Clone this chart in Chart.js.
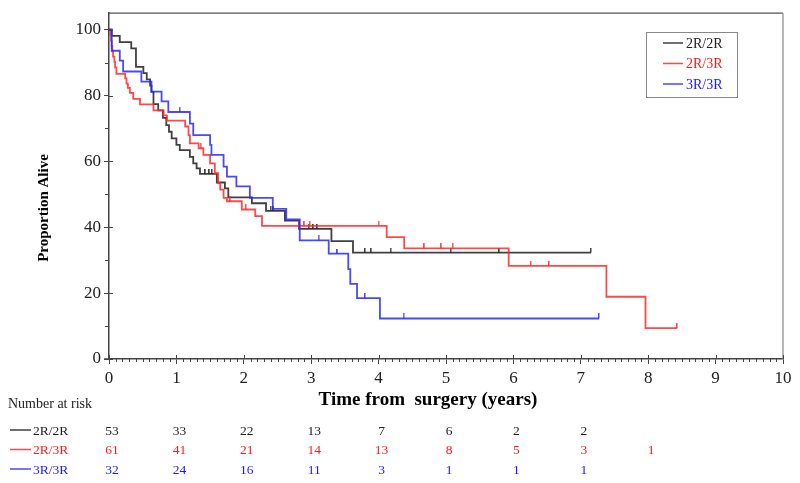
<!DOCTYPE html>
<html>
<head>
<meta charset="utf-8">
<script src="https://cdn.jsdelivr.net/npm/chart.js@4.4.1/dist/chart.umd.min.js"></script>
<style>
body { margin: 0; background: #fff; }
#wrap { width: 800px; height: 483px; }
</style>
</head>
<body>
<div id="wrap"><canvas id="km" width="800" height="483"></canvas></div>
<script>
// Kaplan-Meier steps (years, % alive)
const t2R2R = [0, 0.04, 0.16, 0.33, 0.40, 0.51, 0.56, 0.61, 0.63, 0.66, 0.73, 0.80, 0.85, 0.89, 0.93, 1.00, 1.05, 1.20, 1.25, 1.30, 1.35, 1.60, 1.72, 1.77, 2.12, 2.33, 2.61, 2.82, 3.30, 3.62, 7.15]
const s2R2R = [100, 98.1, 96.2, 94.3, 88.7, 86.8, 84.9, 83.0, 81.1, 77.4, 75.5, 73.2, 71.0, 69.0, 67.0, 65.0, 63.4, 61.4, 59.4, 57.9, 56.2, 53.6, 51.8, 49.1, 47.3, 45.0, 42.0, 39.5, 35.8, 32.3, 32.3]
const c2R2R = [1.43, 1.49, 1.53, 2.40, 2.44, 2.96, 3.03, 3.09, 3.80, 3.89, 4.18, 5.07, 5.79, 7.15]

const t2R3R = [0, 0.02, 0.03, 0.04, 0.05, 0.06, 0.08, 0.09, 0.11, 0.24, 0.26, 0.28, 0.31, 0.36, 0.46, 0.66, 0.81, 0.86, 1.13, 1.18, 1.20, 1.33, 1.40, 1.50, 1.57, 1.62, 1.65, 1.70, 1.75, 1.97, 2.17, 2.27, 4.12, 4.38, 5.93, 7.38, 7.96, 8.43]
const s2R3R = [100, 98.4, 96.7, 95.1, 93.4, 91.8, 90.2, 88.5, 86.6, 85.2, 83.6, 82.3, 80.8, 79.0, 77.3, 75.5, 74.0, 72.4, 70.6, 68.0, 65.5, 64.0, 62.0, 59.4, 56.4, 53.4, 51.4, 48.9, 47.9, 45.4, 43.4, 40.4, 37.0, 33.6, 28.3, 18.9, 9.4, 9.4]
const c2R3R = [1.36, 1.80, 2.03, 2.82, 2.90, 2.98, 4.00, 4.68, 4.93, 5.10, 6.26, 6.53, 8.43]

const t3R3R = [0, 0.04, 0.16, 0.21, 0.48, 0.63, 0.78, 0.88, 1.20, 1.25, 1.50, 1.52, 1.70, 1.75, 1.89, 2.09, 2.43, 2.63, 2.83, 3.26, 3.55, 3.58, 3.68, 4.02, 7.27]
const s3R3R = [100, 93.6, 90.6, 87.3, 84.2, 81.2, 78.2, 75.0, 71.5, 68.0, 65.0, 62.0, 58.4, 55.4, 52.4, 48.9, 45.6, 42.4, 36.0, 32.0, 27.3, 22.8, 18.5, 12.3, 12.3]
const c3R3R = [1.05, 3.11, 3.39, 3.80, 4.37, 7.27]

// number at risk at 0,1,2,... years
const riskYears = [0, 1, 2, 3, 4, 5, 6, 7, 8]
const r2R2R = [53, 33, 22, 13, 7, 6, 2, 2]
const r2R3R = [61, 41, 21, 14, 13, 8, 5, 3, 1]
const r3R3R = [32, 24, 16, 11, 3, 1, 1, 1]

const yTicks = [0, 20, 40, 60, 80, 100]

const groups = ['2R/2R', '2R/3R', '3R/3R']
const lineColors = ['rgba(30,30,30,0.85)', 'rgba(255,40,40,0.85)', 'rgba(40,40,255,0.85)']
const textColors = ['#222222', '#ff1a1a', '#1a1aff']

const serif = '"Liberation Serif", "DejaVu Serif", serif'

function steps(ts, ss) {
    return ts.map((t, i) => ({x: t, y: ss[i]}))
}

function levelAt(ts, ss, t) {
    let v = ss[0]
    for (let i = 0; i < ts.length; i++) {
        if (ts[i] <= t) v = ss[i]
    }
    return v
}

function censorMarks(ts, ss, cs) {
    return cs.map(c => ({x: c, y: levelAt(ts, ss, c)}))
}

// little upward tick used as censoring mark
function tickImage(color) {
    const c = document.createElement('canvas')
    c.width = 2
    c.height = 10
    const g = c.getContext('2d')
    g.fillStyle = color
    g.fillRect(0, 0, 1.5, 5)
    return c
}

const allT = [t2R2R, t2R3R, t3R3R]
const allS = [s2R2R, s2R3R, s3R3R]
const allC = [c2R2R, c2R3R, c3R3R]
const allR = [r2R2R, r2R3R, r3R3R]

const datasets = []
for (let i = 0; i < 3; i++) {
    datasets.push({
        label: groups[i],
        data: steps(allT[i], allS[i]),
        stepped: 'before',
        borderColor: lineColors[i],
        borderWidth: 1.8,
        pointRadius: 0,
        fill: false,
        order: 3 - i
    })
}
for (let i = 0; i < 3; i++) {
    datasets.push({
        label: groups[i] + ' censored',
        data: censorMarks(allT[i], allS[i], allC[i]),
        showLine: false,
        pointStyle: tickImage(lineColors[i]),
        pointRadius: 3,
        pointHoverRadius: 3,
        order: 3 - i
    })
}

const extras = {
    id: 'extras',
    afterDraw(chart) {
        const ctx = chart.ctx
        const a = chart.chartArea
        const xs = chart.scales.x
        const ys = chart.scales.y
        ctx.save()

        // frame
        ctx.lineWidth = 1.2
        ctx.strokeStyle = '#555'
        ctx.beginPath(); ctx.moveTo(a.left, a.top); ctx.lineTo(a.right, a.top); ctx.stroke()
        ctx.strokeStyle = '#888'
        ctx.beginPath(); ctx.moveTo(a.right, a.top); ctx.lineTo(a.right, a.bottom); ctx.stroke()

        // x axis stub left of 0
        ctx.strokeStyle = '#444'
        ctx.lineWidth = 1.5
        ctx.beginPath(); ctx.moveTo(a.left - 5, a.bottom); ctx.lineTo(a.left, a.bottom); ctx.stroke()

        // x minor ticks and inner half of major ticks
        ctx.lineWidth = 1
        for (let i = 0; i <= 100; i++) {
            const px = Math.round(xs.getPixelForValue(i / 10)) + 0.5
            ctx.beginPath()
            if (i % 10 === 0) { ctx.moveTo(px, a.bottom - 4); ctx.lineTo(px, a.bottom) }
            else { ctx.moveTo(px, a.bottom); ctx.lineTo(px, a.bottom + 3) }
            ctx.stroke()
        }
        // y minor ticks and inner half of major ticks
        for (let v = 0; v <= 100; v += 10) {
            const py = Math.round(ys.getPixelForValue(v)) + 0.5
            ctx.beginPath()
            if (v % 20 === 0) { ctx.moveTo(a.left, py); ctx.lineTo(a.left + 4, py) }
            else { ctx.moveTo(a.left - 4, py); ctx.lineTo(a.left, py) }
            ctx.stroke()
        }

        // axis titles
        ctx.fillStyle = '#000'
        ctx.textAlign = 'center'
        ctx.textBaseline = 'middle'
        ctx.font = 'bold 19px ' + serif
        ctx.fillText('Time from  surgery (years)', 428, 400)
        ctx.save()
        ctx.translate(44, 208)
        ctx.rotate(-Math.PI / 2)
        ctx.font = 'bold 15px ' + serif
        ctx.fillText('Proportion Alive', 0, 0)
        ctx.restore()

        // legend box
        ctx.strokeStyle = '#888'
        ctx.lineWidth = 1
        ctx.strokeRect(646.5, 32.5, 91, 65)
        ctx.font = '14px ' + serif
        ctx.textAlign = 'left'
        const legY = [43, 63.5, 84]
        for (let i = 0; i < 3; i++) {
            ctx.strokeStyle = lineColors[i]
            ctx.lineWidth = 1.5
            ctx.beginPath(); ctx.moveTo(663, legY[i]); ctx.lineTo(683, legY[i]); ctx.stroke()
            ctx.fillStyle = textColors[i]
            ctx.fillText(groups[i], 686, legY[i] + 1)
        }

        // number at risk table
        ctx.fillStyle = '#222'
        ctx.font = '14px ' + serif
        ctx.fillText('Number at risk', 8, 404)
        const rowY = [430, 449.5, 469]
        for (let i = 0; i < 3; i++) {
            ctx.strokeStyle = lineColors[i]
            ctx.lineWidth = 1.5
            ctx.beginPath(); ctx.moveTo(10, rowY[i]); ctx.lineTo(31, rowY[i]); ctx.stroke()
            ctx.fillStyle = textColors[i]
            ctx.font = '13.5px ' + serif
            ctx.textAlign = 'left'
            ctx.fillText(groups[i], 33, rowY[i] + 1)
            ctx.textAlign = 'center'
            allR[i].forEach((n, k) => {
                ctx.fillText(String(n), xs.getPixelForValue(riskYears[k]) + 3, rowY[i] + 1)
            })
        }
        ctx.restore()
    }
}

window.onload = () => {
    const ctx = document.getElementById('km')
    new Chart(ctx, {
        type: 'line',
        data: {datasets: datasets},
        options: {
            responsive: false,
            animation: false,
            layout: {padding: {top: 11, right: 17, bottom: 0, left: 0}},
            plugins: {legend: {display: false}, tooltip: {enabled: false}},
            scales: {
                x: {
                    type: 'linear',
                    min: 0,
                    max: 10,
                    ticks: {stepSize: 1, color: '#222', padding: 4, font: {family: serif, size: 17}},
                    grid: {drawOnChartArea: false, color: '#444', tickLength: 5},
                    border: {color: '#444', width: 1.5},
                    afterFit: s => { s.height = 124 }
                },
                y: {
                    min: 0,
                    max: 105,
                    ticks: {color: '#222', padding: 3, font: {family: serif, size: 17}},
                    grid: {drawOnChartArea: false, color: '#444', tickLength: 5},
                    border: {color: '#444', width: 1.5},
                    afterBuildTicks: s => { s.ticks = yTicks.map(v => ({value: v})) },
                    afterFit: s => { s.width = 109 }
                }
            }
        },
        plugins: [extras]
    })
}
</script>
</body>
</html>
